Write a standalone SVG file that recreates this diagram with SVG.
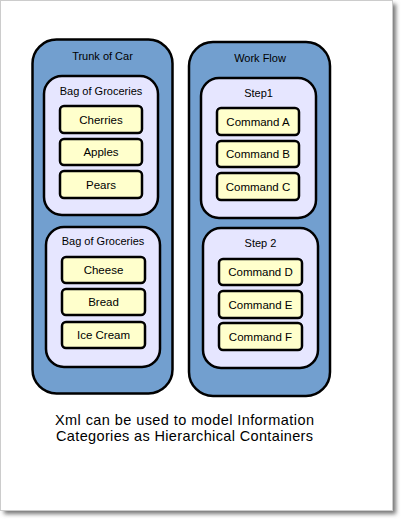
<svg xmlns="http://www.w3.org/2000/svg" width="402" height="519" viewBox="0 0 402 519">
<defs>
<filter id="sh" x="-5%" y="-5%" width="115%" height="115%"><feGaussianBlur stdDeviation="2"/></filter>
</defs>
<style>
.outer{fill:#729fcf;stroke:#000;stroke-width:2.5}
.bag{fill:#e6e6ff;stroke:#000;stroke-width:2.5}
.item{fill:#ffffcc;stroke:#000;stroke-width:2.5}
text{font-family:"Liberation Sans",Arial,sans-serif;fill:#000;text-anchor:middle}
.t{font-size:11px}
.i{font-size:11.5px}
.cap{font-size:14.5px}
</style>
<rect x="0" y="0" width="402" height="519" fill="#fff"/>
<rect x="4" y="4" width="392" height="510" fill="#777" filter="url(#sh)"/>
<rect x="0.5" y="0.5" width="392" height="510" fill="#fff" stroke="#ccc" stroke-width="1"/>
<g id="trunk">
<rect class="outer" x="32.5" y="39.5" width="140" height="354" rx="24"/>
<text class="t" x="102.5" y="60">Trunk of Car</text>
</g>
<g id="bag1">
<rect class="bag" x="44" y="76" width="114" height="139" rx="18"/>
<text class="t" x="101" y="95">Bag of Groceries</text>
</g>
<g id="cherries"><rect class="item" x="60" y="106" width="82" height="27" rx="4"/><text class="i" x="101" y="123.5">Cherries</text></g>
<g id="apples"><rect class="item" x="60" y="139" width="82" height="26" rx="4"/><text class="i" x="101" y="156">Apples</text></g>
<g id="pears"><rect class="item" x="60" y="171" width="82" height="27" rx="4"/><text class="i" x="101" y="188.5">Pears</text></g>
<g id="bag2">
<rect class="bag" x="46" y="227" width="114" height="140" rx="18"/>
<text class="t" x="103" y="245">Bag of Groceries</text>
</g>
<g id="cheese"><rect class="item" x="62" y="257" width="83" height="26" rx="4"/><text class="i" x="103.5" y="274">Cheese</text></g>
<g id="bread"><rect class="item" x="62" y="289" width="83" height="26" rx="4"/><text class="i" x="103.5" y="306">Bread</text></g>
<g id="icecream"><rect class="item" x="62" y="322" width="83" height="26" rx="4"/><text class="i" x="103.5" y="339">Ice Cream</text></g>
<g id="workflow">
<rect class="outer" x="189" y="42" width="141" height="354" rx="24"/>
<text class="t" x="260" y="62">Work Flow</text>
</g>
<g id="step1">
<rect class="bag" x="201" y="78" width="115" height="140" rx="18"/>
<text class="t" x="258.5" y="97">Step1</text>
</g>
<g id="cmdA"><rect class="item" x="217" y="108" width="82" height="27" rx="4"/><text class="i" x="258" y="125.5">Command A</text></g>
<g id="cmdB"><rect class="item" x="217" y="141" width="82" height="26" rx="4"/><text class="i" x="258" y="158">Command B</text></g>
<g id="cmdC"><rect class="item" x="217" y="173" width="82" height="27" rx="4"/><text class="i" x="258" y="190.5">Command C</text></g>
<g id="step2">
<rect class="bag" x="203" y="228" width="115" height="140" rx="18"/>
<text class="t" x="260.5" y="247">Step 2</text>
</g>
<g id="cmdD"><rect class="item" x="219" y="259" width="83" height="26" rx="4"/><text class="i" x="260.5" y="276">Command D</text></g>
<g id="cmdE"><rect class="item" x="219" y="291" width="83" height="27" rx="4"/><text class="i" x="260.5" y="308.5">Command E</text></g>
<g id="cmdF"><rect class="item" x="219" y="323" width="83" height="27" rx="4"/><text class="i" x="260.5" y="340.5">Command F</text></g>
<g id="connectors"/>
<g id="caption">
<text class="cap" x="184.5" y="425" textLength="259" lengthAdjust="spacing">Xml can be used to model Information</text>
<text class="cap" x="184.5" y="441" textLength="257" lengthAdjust="spacing">Categories as Hierarchical Containers</text>
</g>
</svg>
